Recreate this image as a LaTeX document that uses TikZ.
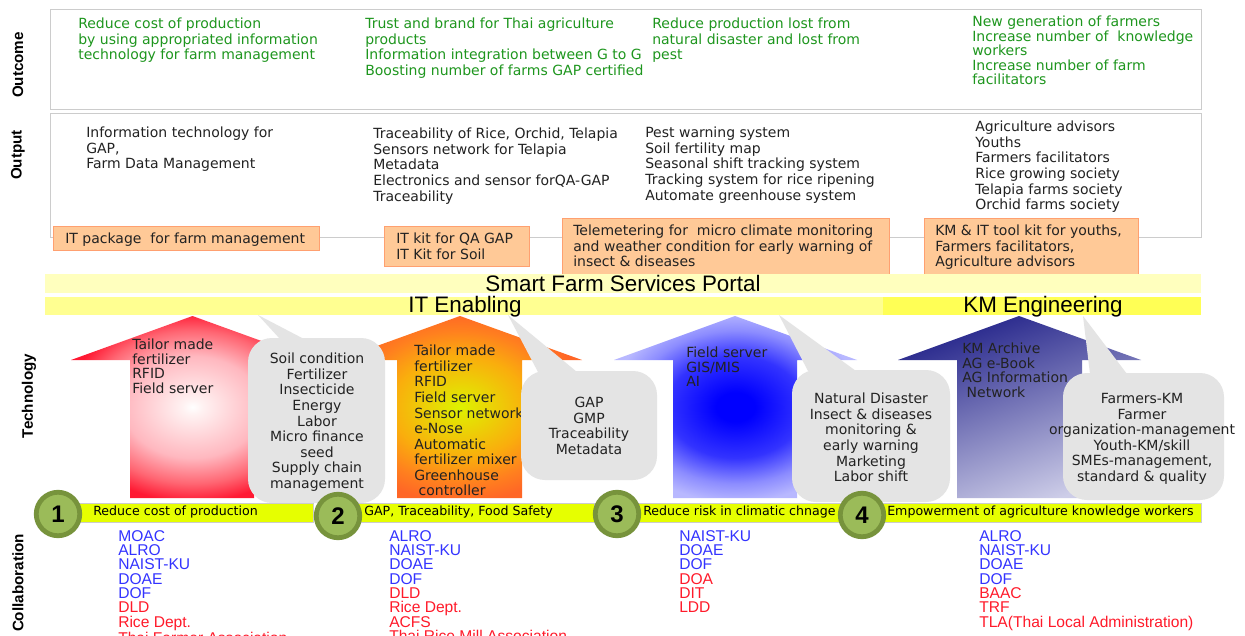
\documentclass[tikz,border=0pt]{standalone}
\usepackage{fontspec}
\setmainfont{DejaVu Sans}
\newfontfamily\arfont{Liberation Sans}
\usetikzlibrary{shadings}
\definecolor{frameg}{HTML}{CCCCCC}
\definecolor{outg}{HTML}{1E961E}
\definecolor{txtk}{HTML}{222222}
\definecolor{boxf}{HTML}{FFC997}
\definecolor{boxl}{HTML}{FFA070}
\definecolor{callf}{HTML}{E4E4E4}
\definecolor{listb}{HTML}{3333FF}
\definecolor{listr}{HTML}{FF1A2A}
\definecolor{barf}{HTML}{E6FF00}
\definecolor{ringf}{HTML}{9BBB59}
\definecolor{ringl}{HTML}{77933C}
\pgfdeclareradialshading{redrad}{\pgfpoint{0bp}{0bp}}{rgb(0bp)=(1,1,1);rgb(2bp)=(1,.95,.95);rgb(14bp)=(1,.72,.75);rgb(21bp)=(1,.4,.45);rgb(26bp)=(1,.1,.2);rgb(50bp)=(1,0,.1)}
\pgfdeclareradialshading{orarad}{\pgfpoint{0bp}{0bp}}{rgb(0bp)=(.87,.95,0);rgb(14bp)=(.98,.68,.05);rgb(21bp)=(1,.5,.12);rgb(26bp)=(1,.4,.15);rgb(50bp)=(1,.4,.15)}
\pgfdeclareradialshading{blurad}{\pgfpoint{0bp}{0bp}}{rgb(0bp)=(0,0,1);rgb(4bp)=(0,0,1);rgb(14bp)=(.2,.2,1);rgb(21bp)=(.55,.55,1);rgb(26bp)=(.72,.72,1);rgb(50bp)=(.72,.72,1)}
\tikzset{
  x=.75pt,y=-.75pt,
  frame/.style={draw=frameg,line width=.65pt},
  obox/.style={draw=boxl,fill=boxf,line width=.65pt},
  call/.style={fill=callf,draw=none},
  txt/.style={inner sep=0pt,anchor=north west,align=left,text=txtk,yshift=-2.25pt,
    font=\fontsize{10.5}{11.65}\selectfont,execute at begin node={\rule{0pt}{12.2pt}}},
  outc/.style={txt,text=outg},
  tight/.style={font=\fontsize{10.5}{10.8}\selectfont},
  ctr/.style={inner sep=0pt,anchor=north,align=center,text=txtk,yshift=-2.25pt,
    font=\fontsize{10.5}{11.65}\selectfont,execute at begin node={\rule{0pt}{12.2pt}}},
  lst/.style={inner sep=0pt,anchor=north west,align=left,yshift=-1.5pt,
    font=\arfont\fontsize{11.7}{10.75}\selectfont,execute at begin node={\rule{0pt}{11.5pt}}},
  axis/.style={inner sep=0pt,rotate=90,text=black,font=\arfont\bfseries\fontsize{11.4}{13}\selectfont},
  head/.style={inner sep=0pt,text=black,font=\arfont\fontsize{16.8}{18}\selectfont},
  barlbl/.style={inner sep=0pt,anchor=west,text=black,font=\fontsize{9.45}{10}\selectfont},
  num/.style={circle,minimum size=43.5pt*.75,inner sep=0pt,fill=ringf,draw=ringl,line width=3.6pt,
    text=black,font=\arfont\bfseries\fontsize{18}{20}\selectfont},
}
\newcommand{\bl}[1]{\textcolor{listb}{#1}}
\newcommand{\rd}[1]{\textcolor{listr}{#1}}
\begin{document}
\begin{tikzpicture}
\useasboundingbox (0,0) rectangle (1245,635);
\fill[white] (0,0) rectangle (1245,635);
% frames
\draw[frame] (50,9) rectangle (1201,109);
\draw[frame] (50,113) rectangle (1201,237);
% axis labels
\node[axis] (axOutcome) at (18,65) {Outcome};
\node[axis] (axOutput) at (18,155) {Output};
\node[axis] (axTech) at (29,396) {Technology};
\node[axis] (axCollab) at (18,583) {Collaboration};
% outcome
\node[outc] (oc1) at (78,15) {Reduce cost of production\\by using appropriated information\\technology for farm management};
\node[outc] (oc2) at (365,15) {Trust and brand for Thai agriculture\\products\\Information integration between G to G\\Boosting number of farms GAP certified};
\node[outc] (oc3) at (652,15) {Reduce production lost from\\natural disaster and lost from\\pest};
\node[outc,tight] (oc4) at (972,13) {New generation of farmers\\Increase number of\ \ knowledge\\workers\\Increase number of farm\\facilitators};
% output
\node[txt] (op1) at (86,124) {Information technology for\\GAP,\\Farm Data Management};
\node[txt] (op2) at (373,125) {Traceability of Rice, Orchid, Telapia\\Sensors network for Telapia\\Metadata\\Electronics and sensor forQA-GAP\\Traceability};
\node[txt] (op3) at (645,124) {Pest warning system\\Soil fertility map\\Seasonal shift tracking system\\Tracking system for rice ripening\\Automate greenhouse system};
\node[txt] (op4) at (975,118) {Agriculture advisors\\Youths\\Farmers facilitators\\Rice growing society\\Telapia farms society\\Orchid farms society};
% orange boxes
\draw[obox] (53,226) rectangle (319,250);
\draw[obox] (384,226) rectangle (529,266);
\draw[obox] (562,218) rectangle (889,274);
\draw[obox] (924,218) rectangle (1138,274);
\node[txt] (b1) at (65,224) {IT package\ \ for farm management};
\node[txt] (b2) at (396,230) {IT kit for QA GAP\\IT Kit for Soil};
\node[txt] (b3) at (573,222) {Telemetering for\ \ micro climate monitoring\\and weather condition for early warning of\\insect \& diseases};
\node[txt] (b4) at (935,222) {KM \& IT tool kit for youths,\\Farmers facilitators,\\Agriculture advisors};
% bars
\fill[fill={rgb,255:red,255;green,255;blue,190}] (45,274) rectangle (1201,293);
\fill[fill={rgb,255:red,255;green,255;blue,145}] (45,297) rectangle (883,315);
\fill[fill={rgb,255:red,255;green,255;blue,85}] (883,297) rectangle (1201,315);
\node[head] (portal) at (623,283.5) {Smart Farm Services Portal};
\node[head] (itEn) at (465,307) {IT Enabling};
\node[head] (kmEn) at (1043,307) {KM Engineering};
% arrows
\shade[shading=redrad] (71,360) -- (192.5,316) -- (314,360) -- (254,360) -- (254,498) -- (130,498) -- (130,360) -- cycle;
\shade[shading=orarad] (338,360) -- (460,316) -- (582,360) -- (522,360) -- (522,498) -- (397,498) -- (397,360) -- cycle;
\shade[shading=blurad] (614,360) -- (735,316) -- (857,360) -- (797,360) -- (797,498) -- (673,498) -- (673,360) -- cycle;
\shade[top color={rgb,255:red,36;green,36;blue,138},bottom color={rgb,255:red,205;green,205;blue,232},shading angle=20]
  (898,360) -- (1019,316) -- (1141,360) -- (1082,360) -- (1082,498) -- (957,498) -- (957,360) -- cycle;
% arrow text
\node[txt,tight] (t1) at (132,336) {Tailor made\\fertilizer\\RFID\\Field server};
\node[txt] (t2) at (414,342) {Tailor made\\fertilizer\\RFID\\Field server\\Sensor network\\e-Nose\\Automatic\\fertilizer mixer\\Greenhouse\\\ controller};
\node[txt,tight] (t3) at (686,344) {Field server\\GIS/MIS\\AI};
\node[txt,tight] (t4) at (962,340) {KM Archive\\AG e-Book\\AG Information\\\ Network};
% callouts
\fill[call,rounded corners=24pt*.75] (248,338) rectangle (385,503);
\fill[call] (258,315) -- (304,339) -- (280,339) -- cycle;
\fill[call,rounded corners=24pt*.75] (521,371) rectangle (657,480);
\fill[call] (508,315) -- (577,372) -- (538,372) -- cycle;
\fill[call,rounded corners=24pt*.75] (792,370) rectangle (950,502);
\fill[call] (779,315) -- (856,371) -- (808,371) -- cycle;
\fill[call,rounded corners=24pt*.75] (1063,373) rectangle (1224,500);
\fill[call] (1083,316) -- (1127,374) -- (1090,374) -- cycle;
% callout text
\node[ctr] (c1) at (317,350) {Soil condition\\Fertilizer\\Insecticide\\Energy\\Labor\\Micro finance\\seed\\Supply chain\\management};
\node[ctr] (c2) at (589,394) {GAP\\GMP\\Traceability\\Metadata};
\node[ctr] (c3) at (871,390) {Natural Disaster\\Insect \& diseases\\monitoring \&\\early warning\\Marketing\\Labor shift};
\node[ctr] (c4) at (1142,390) {Farmers-KM\\Farmer\\organization-management\\Youth-KM/skill\\SMEs-management,\\standard \& quality};
% yellow bars
\draw[fill=barf,draw=frameg,line width=.6pt] (70,503) rectangle (313,522);
\draw[fill=barf,draw=frameg,line width=.6pt] (345,503) rectangle (594,522);
\draw[fill=barf,draw=frameg,line width=.6pt] (630,503) rectangle (850,522);
\draw[fill=barf,draw=frameg,line width=.6pt] (870,503) rectangle (1201,522);
\node[barlbl] (l1) at (93,512.5) {Reduce cost of production};
\node[barlbl] (l2) at (364,512.5) {GAP, Traceability, Food Safety};
\node[barlbl] (l3) at (643,512.5) {Reduce risk in climatic chnage};
\node[barlbl] (l4) at (887,512.5) {Empowerment of agriculture knowledge workers};
\node[num] (n1) at (58,514) {1};
\node[num] (n2) at (338,516) {2};
\node[num] (n3) at (617,514) {3};
\node[num] (n4) at (862,515) {4};
% collaboration
\node[lst] (p1) at (118,528) {\bl{MOAC}\\\bl{ALRO}\\\bl{NAIST-KU}\\\bl{DOAE}\\\bl{DOF}\\\rd{DLD}\\\rd{Rice Dept.}\\\rd{Thai Farmer Association}};
\node[lst] (p2) at (389,528) {\bl{ALRO}\\\bl{NAIST-KU}\\\bl{DOAE}\\\bl{DOF}\\\rd{DLD}\\\rd{Rice Dept.}\\\rd{ACFS}\\\rd{Thai Rice Mill Association}};
\node[lst] (p3) at (679,528) {\bl{NAIST-KU}\\\bl{DOAE}\\\bl{DOF}\\\rd{DOA}\\\rd{DIT}\\\rd{LDD}};
\node[lst] (p4) at (979,528) {\bl{ALRO}\\\bl{NAIST-KU}\\\bl{DOAE}\\\bl{DOF}\\\rd{BAAC}\\\rd{TRF}\\\rd{TLA(Thai Local Administration)}};
\end{tikzpicture}
\end{document}
